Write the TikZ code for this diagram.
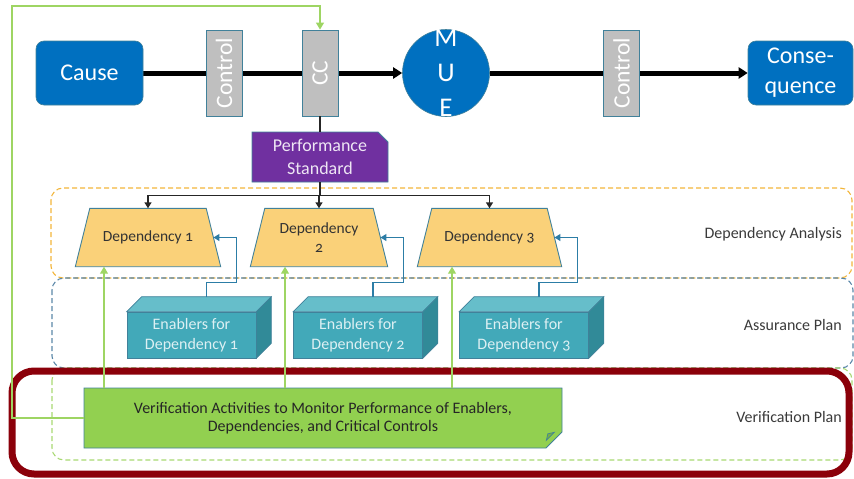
\documentclass[tikz,border=0pt]{standalone}
\usepackage{fontspec}
\setmainfont{Carlito}[Numbers=OldStyle]
\usetikzlibrary{shapes.geometric,shapes.misc,arrows.meta,calc}

\definecolor{bowblue}{HTML}{0070C0}
\definecolor{ctrlgray}{HTML}{BFBFBF}
\definecolor{edgeteal}{HTML}{41819A}
\definecolor{perfpurple}{HTML}{7030A0}
\definecolor{depgold}{HTML}{FAD179}
\definecolor{enfront}{HTML}{42A9B9}
\definecolor{entop}{HTML}{66BECA}
\definecolor{enside}{HTML}{318A98}
\definecolor{entext}{HTML}{DDF0F3}
\definecolor{verigreen}{HTML}{92D050}
\definecolor{foldgreen}{HTML}{78B43C}
\definecolor{feedgreen}{HTML}{9ED563}
\definecolor{linkblue}{HTML}{2C7DA6}
\definecolor{framered}{HTML}{8B000A}
\definecolor{labelgray}{HTML}{3A3A3A}
\definecolor{dashorange}{HTML}{F2B53A}
\definecolor{dashblue}{HTML}{5A87A8}
\definecolor{dashgreen}{HTML}{A8D872}

\pgfdeclarelayer{background}
\pgfsetlayers{background,main}

\newcommand{\fs}[2]{\fontsize{#1}{#2}\selectfont}

\begin{document}
\begin{tikzpicture}[x=1pt,y=-1pt,
  endbox/.style={rounded corners=8pt, fill=bowblue, draw=edgeteal, line width=0.6pt,
    minimum height=64pt, text=white, align=center, font=\fs{24}{30}, inner sep=0pt},
  ctrlbox/.style={rectangle, fill=ctrlgray, draw=edgeteal, line width=0.8pt, rotate=90,
    minimum width=86pt, minimum height=36pt, text=white, font=\fs{23.5}{26}, inner sep=0pt},
  muebox/.style={circle, fill=bowblue, draw=edgeteal, line width=0.6pt, minimum size=87pt, inner sep=0pt},
  muetext/.style={text=white, align=center, font=\fs{27}{35}, inner sep=0pt},
  perfbox/.style={chamfered rectangle, chamfered rectangle corners=north east,
    chamfered rectangle xsep=5pt, chamfered rectangle ysep=5pt,
    fill=perfpurple, draw=edgeteal, line width=0.8pt, minimum width=136pt, minimum height=50pt,
    text=white!88!perfpurple, align=center, font=\fs{18}{23}, inner sep=0pt},
  deplabel/.style={rectangle, minimum height=58pt, text=black!80, align=center,
    font=\fs{15.5}{19}, inner sep=0pt},
  depshape/.style={fill=depgold, draw=edgeteal, line width=0.9pt},
  enabler/.style={rectangle, fill=enfront, draw=edgeteal, line width=0.6pt,
    minimum width=129pt, minimum height=46pt, text=entext, align=center,
    font=\fs{16}{20}, inner sep=0pt},
  verbox/.style={chamfered rectangle, chamfered rectangle corners=south east,
    chamfered rectangle xsep=8pt, chamfered rectangle ysep=8pt,
    fill=verigreen, draw=edgeteal, line width=0.9pt, minimum width=478pt, minimum height=60pt,
    text=black!85, align=center, font=\fs{16}{18.5}, inner sep=0pt},
  phaselabel/.style={anchor=east, text=labelgray, font=\fs{16}{19}, inner sep=0pt},
  mainflow/.style={line width=5pt, black, -{Triangle[length=9pt,width=11pt]}},
  bus/.style={black!85, line width=1.4pt},
  busarrow/.style={black!85, line width=1.4pt, -{Triangle[length=6pt,width=7pt]}},
  enablerlink/.style={linkblue, line width=1.3pt, -{Triangle[length=6pt,width=7pt]}},
  verlink/.style={feedgreen, line width=1.2pt, -{Triangle[length=7pt,width=8pt]}},
  phase/.style={dashed, dash pattern=on 5pt off 3pt, line width=1.1pt, rounded corners=12pt}
]
\useasboundingbox (0,0) rectangle (854,479);

% ---- phase frames ----
\begin{pgfonlayer}{background}
  \draw[phase, dashorange] (51,188) rectangle (852,278);
  \draw[phase, dashblue]   (52,278) rectangle (853,368);
  \draw[phase, dashgreen]  (52,368) rectangle (852,460);
\end{pgfonlayer}
\draw[framered, line width=7pt, rounded corners=22pt] (12,371) rectangle (849,474);

% ---- bow-tie row ----
\node[endbox, minimum width=107pt] (cause) at (89.5,73) {Cause};
\node[ctrlbox] (ctrlA) at (224,73) {Control};
\node[ctrlbox] (cc) at (320,73) {CC};
\node[muebox] (mue) at (446,73) {};
\node[muetext] (muelabel) at (mue.center) {M\\U\\E};
\node[ctrlbox] (ctrlB) at (621.5,73) {Control};
\node[endbox, minimum width=105pt] (cons) at (800.5,73) {Conse-\\quence};

\begin{pgfonlayer}{background}
  \draw[mainflow] (cause.east) -- (mue.west);
  \draw[mainflow] (mue.east) -- (cons.west);
\end{pgfonlayer}

% ---- performance standard ----
\node[perfbox] (ps) at (320,157) {Performance\\Standard};
\draw[bus] (cc.west) -- (ps.north);

% ---- dependencies: trapezoids, top edge = label box width, 14.5pt lean ----
\foreach \n/\x/\w/\txt in {1/148/116/{Dependency 1}, 2/319/108/{Dependency\\2}, 3/489.5/115/{Dependency 3}}{
  \node[deplabel, minimum width=\w pt] (dep\n) at (\x,237.5) {\txt};
  \begin{pgfonlayer}{background}
    \path[depshape] (dep\n.north west) -- (dep\n.north east)
      -- ($(dep\n.south east)+(14.5,0)$) -- ($(dep\n.south west)+(-14.5,0)$) -- cycle;
  \end{pgfonlayer}
  \coordinate (dep\n side) at ($(dep\n.east)+(7.25,0)$);
}

\coordinate (busjoin) at ($(ps.south)+(0,13)$);
\draw[bus, line width=2pt] (ps.south) -- (busjoin);
\draw[busarrow] (busjoin) -| (dep1.north);
\draw[busarrow] (busjoin) -| (dep2.north);
\draw[busarrow] (busjoin) -| (dep3.north);

% ---- enablers (boxes with depth) ----
\foreach \n/\x/\num in {1/191.5/1, 2/358/2, 3/524/3}{
  \node[enabler] (en\n) at (\x,335) {Enablers for\\Dependency \num};
  \fill[entop, draw=edgeteal, line width=0.6pt]
    (en\n.north west) -- ++(15,-15) -- ($(en\n.north east)+(15,-15)$) -- (en\n.north east) -- cycle;
  \fill[enside, draw=edgeteal, line width=0.6pt]
    (en\n.north east) -- ++(15,-15) -- ($(en\n.south east)+(15,-15)$) -- (en\n.south east) -- cycle;
  \coordinate (en\n top) at ($(en\n.north)+(15,-15)$);
}
\foreach \n in {1,2,3}{
  \draw[enablerlink] (en\n top) -- ++(0,-14) -| ($(dep\n side)+(23,0)$) -- (dep\n side);
}

% ---- verification activities ----
\node[verbox] (ver) at (323,418)
  {Verification Activities to Monitor Performance of Enablers,\\Dependencies, and Critical Controls};
\fill[foldgreen, draw=edgeteal, line width=0.7pt]
  ($(ver.south east)+(-8,0)$) -- ($(ver.south east)+(0,-8)$) -- ($(ver.south east)+(-6.5,-6.5)$) -- cycle;

\coordinate (gx1) at (104,0);
\coordinate (gx2) at (285,0);
\coordinate (gx3) at (452,0);
\draw[verlink] (gx1 |- ver.north) -- (gx1 |- dep1.south);
\draw[verlink] (gx2 |- ver.north) -- (gx2 |- dep2.south);
\draw[verlink] (gx3 |- ver.north) -- (gx3 |- dep3.south);

\coordinate (loopcorner) at (12,6);
\draw[verlink] (ver.west) -| (loopcorner) -| (cc.east);

% ---- phase labels ----
\node[phaselabel] (lblDA) at (842,234) {Dependency Analysis};
\node[phaselabel] (lblAP) at (842,325) {Assurance Plan};
\node[phaselabel] (lblVP) at (842,417) {Verification Plan};
\end{tikzpicture}
\end{document}
